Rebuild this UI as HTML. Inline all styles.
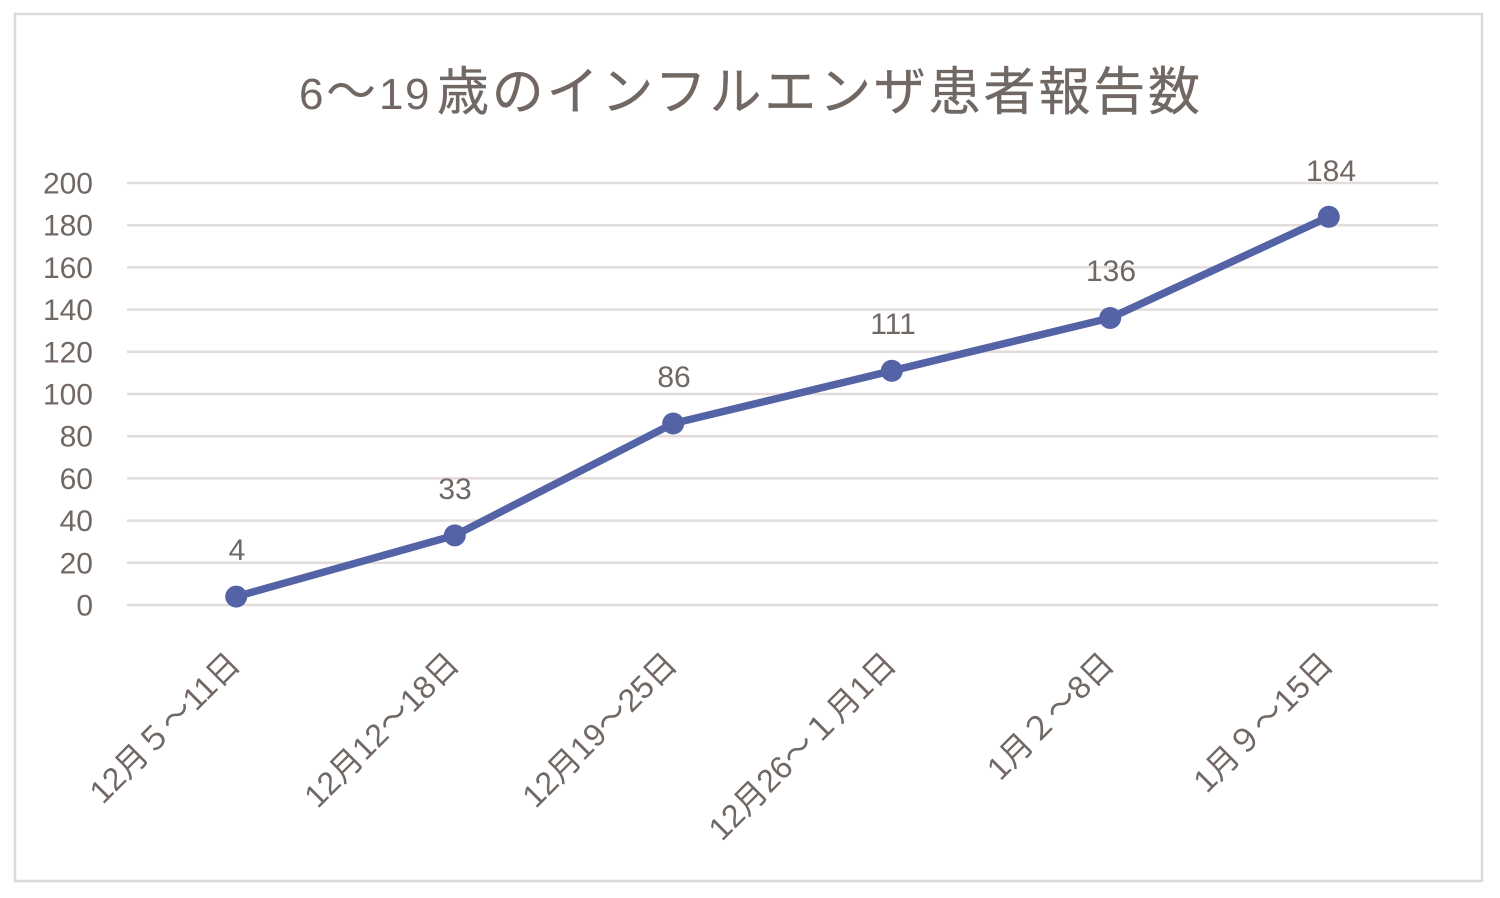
<!DOCTYPE html>
<html>
<head>
<meta charset="utf-8">
<style>
  html, body { margin: 0; padding: 0; background: #ffffff; }
  svg { display: block; }
  .t { font-family: "Liberation Sans", "Noto Sans CJK JP", sans-serif; fill: #716864; }
</style>
</head>
<body>
<svg width="1500" height="898" viewBox="0 0 1500 898" xmlns="http://www.w3.org/2000/svg">
  <rect x="0" y="0" width="1500" height="898" fill="#ffffff"/>
  <rect x="15" y="14" width="1467" height="867" fill="#ffffff" stroke="#dcdad8" stroke-width="2.5"/>

  <!-- Title -->
  <text class="t" y="109">
    <tspan x="299" font-size="44">6</tspan>
    <tspan x="326" font-size="50" font-family="'Noto Sans CJK JP', sans-serif">～</tspan>
    <tspan x="379" font-size="44">1</tspan>
    <tspan x="405" font-size="44">9</tspan>
  </text>
  <text class="t" x="437" y="110" font-size="52" textLength="763" lengthAdjust="spacing" font-family="'Liberation Sans', 'Noto Sans CJK JP', sans-serif" stroke="#716864" stroke-width="0.3">歳のインフルエンザ患者報告数</text>

  <!-- Gridlines -->
  <g stroke="#e2dddb" stroke-width="2.5">
    <line x1="127" y1="183" x2="1438" y2="183"/>
    <line x1="127" y1="225.2" x2="1438" y2="225.2"/>
    <line x1="127" y1="267.4" x2="1438" y2="267.4"/>
    <line x1="127" y1="309.6" x2="1438" y2="309.6"/>
    <line x1="127" y1="351.8" x2="1438" y2="351.8"/>
    <line x1="127" y1="394" x2="1438" y2="394"/>
    <line x1="127" y1="436.2" x2="1438" y2="436.2"/>
    <line x1="127" y1="478.4" x2="1438" y2="478.4"/>
    <line x1="127" y1="520.6" x2="1438" y2="520.6"/>
    <line x1="127" y1="562.8" x2="1438" y2="562.8"/>
    <line x1="127" y1="605" x2="1438" y2="605"/>
  </g>

  <!-- Y axis labels -->
  <g class="t" font-size="30" text-anchor="end">
    <text x="93" y="193.5">200</text>
    <text x="93" y="235.7">180</text>
    <text x="93" y="277.9">160</text>
    <text x="93" y="320.1">140</text>
    <text x="93" y="362.3">120</text>
    <text x="93" y="404.5">100</text>
    <text x="93" y="446.7">80</text>
    <text x="93" y="488.9">60</text>
    <text x="93" y="531.1">40</text>
    <text x="93" y="573.3">20</text>
    <text x="93" y="615.5">0</text>
  </g>

  <!-- Series line -->
  <polyline fill="none" stroke="#5462a6" stroke-width="7.5" stroke-linejoin="round"
    points="236.2,596.6 454.8,535.4 673.2,423.5 891.8,370.8 1110.2,318.0 1328.8,216.8"/>
  <g fill="#5462a6">
    <circle cx="236.2" cy="596.6" r="11"/>
    <circle cx="454.8" cy="535.4" r="11"/>
    <circle cx="673.2" cy="423.5" r="11"/>
    <circle cx="891.8" cy="370.8" r="11"/>
    <circle cx="1110.2" cy="318.0" r="11"/>
    <circle cx="1328.8" cy="216.8" r="11"/>
  </g>

  <!-- Data labels -->
  <g class="t" font-size="30" text-anchor="middle">
    <text x="237" y="560">4</text>
    <text x="455" y="499">33</text>
    <text x="674" y="387">86</text>
    <text x="893" y="334">111</text>
    <text x="1111" y="281">136</text>
    <text x="1331" y="181">184</text>
  </g>

  <!-- X axis labels (rotated -45) -->
  <g class="t" font-size="32" text-anchor="end">
    <text transform="translate(242,666) rotate(-45)">12月５～11日</text>
    <text transform="translate(461,666) rotate(-45)">12月12～18日</text>
    <text transform="translate(679,666) rotate(-45)">12月19～25日</text>
    <text transform="translate(898,666) rotate(-45)">12月26～１月1日</text>
    <text transform="translate(1116,666) rotate(-45)">1月２～8日</text>
    <text transform="translate(1335,666) rotate(-45)">1月９～15日</text>
  </g>
</svg>
</body>
</html>
